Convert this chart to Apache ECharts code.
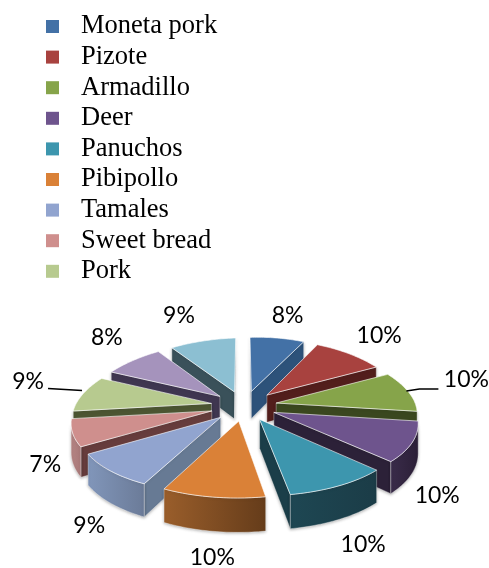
<!DOCTYPE html>
<html>
<head>
<meta charset="utf-8">
<script src="https://cdn.jsdelivr.net/npm/echarts@6/dist/echarts.min.js"></script>
<style>html,body{margin:0;padding:0;background:#fff}#chart{width:489px;height:568px}</style>
</head>
<body>
<div id="chart"></div>
<script>
// Dishes, in clockwise order from twelve o'clock; the last two have no legend entry.
const categories = ['Moneta pork', 'Pizote', 'Armadillo', 'Deer', 'Panuchos', 'Pibipollo', 'Tamales', 'Sweet bread', 'Pork', 'Other 10', 'Other 11'];
const shares = [8, 10, 10, 10, 10, 10, 9, 7, 9, 8, 9];
const legendCount = 9;

// Face colours per slice: top, radial walls, rim gradient (left, right).
const topColors = ['#4371a6', '#a8423f', '#86a44a', '#6e548d', '#3d96ae', '#da8137', '#91a4cf', '#cf8f8d', '#b7ca8f', '#a593bc', '#8cbfd2'];
const wallColors = ['#2d527a', '#521e1c', '#3a471f', '#2c2138', '#1b3e49', '#6f451e', '#677a94', '#663c3c', '#4c5532', '#3f3650', '#3a515a'];
const rimLeft = ['#2d527a', '#6b2927', '#4f6030', '#3a2c4a', '#1e4753', '#9a5e2b', '#8196ba', '#b58584', '#5f6d3c', '#4d4262', '#4b6b78'];
const rimRight = ['#2d527a', '#521e1c', '#3a471f', '#2b1f37', '#1b3c47', '#653c1a', '#6b7b98', '#a87878', '#4c5532', '#3f3650', '#3a515a'];

// Label placement relative to each slice's outer midpoint, in pixels.
const labelNudge = [[8, -28], [25, -24], [57, -16], [29, 50], [32, 57], [8, 61], [-15, 59], [-25, 37], [-55, -8], [-26, -22], [-24, -28]];
// Leader lines: slice index and points relative to the same midpoint.
const leaders = { 2: [[-3, -5], [10, -7], [29, -7]], 8: [[-1, 1], [-35, -1]] };

// Projection of the tilted pie.
const view = { cx: 243.5, cy: 405.3, rx: 138, ry: 61, tilt: 0.15, explode: 0.24, thick: 28 };

function project(x, y, z) {
  const s = 1 / (1 - view.tilt * y);
  return [view.cx + view.rx * x * s, view.cy + view.ry * y * s + (z || 0) * view.thick * s];
}
// Same projection with a slight camera roll and keystone applied to the solid.
function projectSolid(x, y, z) {
  const p = project(x, y, z);
  p[0] += y > 0 ? 7 * y : 6.5 * y * Math.max(x, 0);
  p[1] += 0.5 - 3.75 * x + 1.67 * y - 1.74 * y * y;
  return p;
}
function polar(theta, r, off) {
  return [off[0] + r * Math.sin(theta), off[1] - r * Math.cos(theta)];
}
function area(p) {
  let a = 0;
  for (let i = 0; i < p.length; i++) {
    const q = p[(i + 1) % p.length];
    a += p[i][0] * q[1] - q[0] * p[i][1];
  }
  return a;
}
function poly(points, fill, edge, shadow) {
  const style = { fill: fill, stroke: edge, lineWidth: 1 };
  if (shadow) { style.shadowColor = 'rgba(0,0,0,0.28)'; style.shadowBlur = 3; style.shadowOffsetY = 1; }
  return { type: 'polygon', shape: { points: points }, style: style };
}

const total = shares.reduce((a, b) => a + b, 0);

function drawSlice(i) {
  return function (params, api) {
    const share = api.value(0), before = api.value(1);
    const t0 = before / total * 2 * Math.PI;
    const t1 = (before + share) / total * 2 * Math.PI;
    const mid = (t0 + t1) / 2;
    const off = polar(mid, view.explode, [0, 0]);
    const steps = Math.max(8, Math.round(share * 3));
    const ring = [];
    for (let k = 0; k <= steps; k++) ring.push(polar(t0 + (t1 - t0) * k / steps, 1, off));

    const apexT = projectSolid(off[0], off[1], 0), apexB = projectSolid(off[0], off[1], 1);
    const children = [];
    const rimEdge = 'rgba(255,255,255,0.35)';

    // Radial walls, culled when they turn away from the viewer.
    const a = projectSolid(ring[0][0], ring[0][1], 0), ab = projectSolid(ring[0][0], ring[0][1], 1);
    const startWall = [apexT, a, ab, apexB];
    if (area(startWall) < 0) children.push(poly(startWall, wallColors[i], rimEdge, true));
    const last = ring[steps];
    const e = projectSolid(last[0], last[1], 0), eb = projectSolid(last[0], last[1], 1);
    const endWall = [apexT, e, eb, apexB];
    if (area(endWall) > 0) children.push(poly(endWall, wallColors[i], rimEdge, true));

    // Rim: the forward-facing stretch of the outer arc.
    const tops = [], bottoms = [];
    for (let k = 0; k < steps; k++) {
      const p = projectSolid(ring[k][0], ring[k][1], 0), q = projectSolid(ring[k + 1][0], ring[k + 1][1], 0);
      const pb = projectSolid(ring[k][0], ring[k][1], 1), qb = projectSolid(ring[k + 1][0], ring[k + 1][1], 1);
      if (area([p, q, qb, pb]) < 0) {
        if (!tops.length) { tops.push(p); bottoms.push(pb); }
        tops.push(q); bottoms.push(qb);
      }
    }
    if (tops.length) {
      const fill = new echarts.graphic.LinearGradient(0, 0, 1, 0, [
        { offset: 0, color: rimLeft[i] }, { offset: 1, color: rimRight[i] }
      ]);
      children.push(poly(tops.concat(bottoms.reverse()), fill, rimEdge, true));
    }

    // Top face.
    const face = [apexT].concat(ring.map(p => projectSolid(p[0], p[1], 0)));
    children.push(poly(face, topColors[i], 'rgba(255,255,255,0.6)', false));

    // Percentage label and optional leader line.
    const anchor = project.apply(null, polar(mid, 1 + view.explode, [0, 0]));
    if (leaders[i]) {
      children.push({
        type: 'polyline',
        shape: { points: leaders[i].map(n => [anchor[0] + n[0], anchor[1] + n[1]]) },
        style: { stroke: '#000', lineWidth: 1.5, fill: null }
      });
    }
    children.push({
      type: 'text',
      style: {
        x: anchor[0] + labelNudge[i][0], y: anchor[1] + labelNudge[i][1],
        text: Math.round(share / total * 100) + '%',
        font: '23px Lato', fill: '#000', align: 'center', verticalAlign: 'middle'
      }
    });
    return { type: 'group', children: children };
  };
}

// Back slices are painted first so nearer ones overlap them.
let running = 0;
const slices = shares.map((v, i) => {
  const item = { i: i, share: v, before: running };
  running += v;
  item.depth = -Math.cos((item.before + v / 2) / total * 2 * Math.PI);
  return item;
});
const paintOrder = slices.slice().sort((a, b) => a.depth - b.depth);

const chart = echarts.init(document.getElementById('chart'), null, { renderer: 'canvas' });
chart.setOption({
  animation: false,
  backgroundColor: '#fff',
  legend: {
    orient: 'vertical', left: 41, top: 8,
    data: categories.slice(0, legendCount),
    icon: 'rect', itemWidth: 13, itemHeight: 13, itemGap: 3.6,
    textStyle: { fontFamily: 'Liberation Serif', fontSize: 26.5, color: '#000', padding: [0, 0, 0, 17] },
    selectedMode: false
  },
  series: paintOrder.map(s => ({
    type: 'custom',
    name: categories[s.i],
    coordinateSystem: 'none',
    silent: true,
    itemStyle: { color: topColors[s.i] },
    data: [[s.share, s.before]],
    renderItem: drawSlice(s.i)
  }))
});
</script>
</body>
</html>
